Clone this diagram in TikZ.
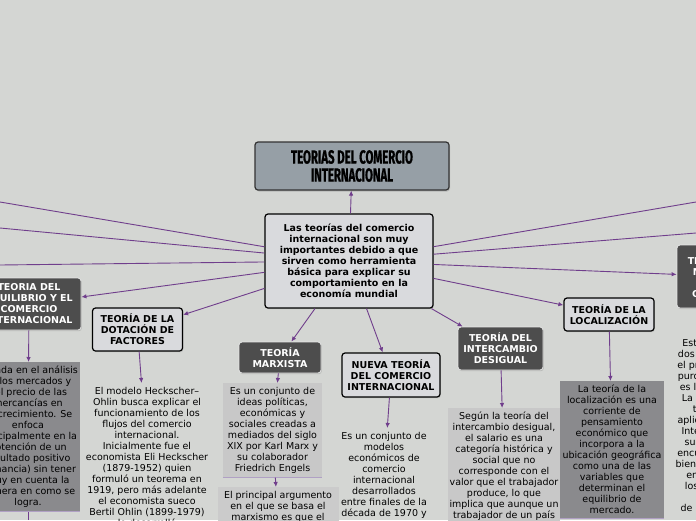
\documentclass[tikz,border=0pt]{standalone}
\usepackage{fontspec}
\setmainfont{DejaVu Sans}
\newfontfamily\titlefont[FakeStretch=0.6, FakeBold=0.8]{Fira Sans}
\usetikzlibrary{arrows.meta,shadows}

\definecolor{bgcol}{RGB}{212,214,211}
\definecolor{titlecol}{RGB}{150,159,166}
\definecolor{palecol}{RGB}{217,218,221}
\definecolor{darkcol}{RGB}{77,77,77}
\definecolor{midcol}{RGB}{138,138,141}
\definecolor{softcol}{RGB}{200,200,200}
\definecolor{linkcol}{RGB}{112,62,140}
\definecolor{rulecol}{RGB}{176,160,196}

\newcommand{\mapfont}{\fontsize{9.5}{11}\selectfont}

\tikzstyle{titlebox} = [rectangle, rounded corners=3pt, draw=black!80, line width=1.2pt, fill=titlecol, align=center,
  font={\titlefont\fontsize{19}{18}\selectfont\bfseries}, drop shadow={shadow xshift=1pt, shadow yshift=-1.5pt, opacity=0.35}]
\tikzstyle{palebox} = [rectangle, rounded corners=3pt, draw=black, line width=1.2pt, fill=palecol, align=center,
  font={\mapfont\bfseries}, drop shadow={shadow xshift=0.8pt, shadow yshift=-1.2pt, opacity=0.3}]
\tikzstyle{darkbox} = [rectangle, rounded corners=3pt, draw=white!80!gray, line width=0.8pt, fill=darkcol, text=white,
  align=center, font={\mapfont\bfseries}, drop shadow={shadow xshift=0.8pt, shadow yshift=-1.2pt, opacity=0.3}]
\tikzstyle{descbox} = [rectangle, anchor=north, inner xsep=1pt, inner ysep=4pt, align=center, font=\mapfont]
\tikzstyle{link} = [draw=linkcol, line width=0.9pt]
\tikzstyle{arr} = [link, -{Latex[length=5pt, width=4.5pt]}]
\tikzstyle{rule} = [draw=rulecol, line width=1pt]

\begin{document}
\begin{tikzpicture}[x=1pt, y=-1pt]
  \useasboundingbox (0,0) rectangle (696,520);
  \fill[bgcol] (0,0) rectangle (696,520);
  \clip (0,0) rectangle (696,520);

  % main nodes
  \node[titlebox, minimum width=194pt, minimum height=48pt] (title) at (352,166) {TEORIAS DEL COMERCIO\\INTERNACIONAL};
  \node[palebox, minimum width=168pt, minimum height=94pt] (cent) at (349,261)
    {Las teorías del comercio\\internacional son muy\\importantes debido a que\\sirven como herramienta\\básica para explicar su\\comportamiento en la\\economía mundial};

  % theories
  \node[darkbox, minimum width=104pt, minimum height=52pt] (equil) at (29,304) {TEORIA DEL\\EQUILIBRIO Y EL\\COMERCIO\\INTERNACIONAL};
  \node[palebox, minimum width=90pt, minimum height=43pt] (dotac) at (137.5,329.5) {TEORÍA DE LA\\DOTACIÓN DE\\FACTORES};
  \node[darkbox, minimum width=82pt, minimum height=31pt] (marx) at (280,357.5) {TEORÍA\\MARXISTA};
  \node[palebox, minimum width=98pt, minimum height=44pt] (nueva) at (391,375) {NUEVA TEORÍA\\DEL COMERCIO\\INTERNACIONAL};
  \node[darkbox, minimum width=85pt, minimum height=43pt] (inter) at (500.5,348.5) {TEORÍA DEL\\INTERCAMBIO\\DESIGUAL};
  \node[palebox, minimum width=90pt, minimum height=33pt] (local) at (609,314.5) {TEORÍA DE LA\\LOCALIZACIÓN};
  \node[darkbox, minimum width=102pt, minimum height=63pt] (merc) at (728,276.5) {TEORÍA DE LAS\\MERCANCÍAS\\Y EL\\CAPITALISMO};

  % descriptions
  \node[descbox, fill=midcol, minimum width=104pt, minimum height=148pt] (equildesc) at (28,362)
    {Basada en el análisis\\de los mercados y\\del precio de las\\mercancías en\\su crecimiento. Se\\enfoca\\principalmente en la\\obtención de un\\resultado positivo\\(ganancia) sin tener\\muy en cuenta la\\manera en como se\\logra.};
  \node[descbox] (dotacdesc) at (147,383)
    {El modelo Heckscher–\\Ohlin busca explicar el\\funcionamiento de los\\flujos del comercio\\internacional.\\Inicialmente fue el\\economista Eli Heckscher\\(1879-1952) quien\\formuló un teorema en\\1919, pero más adelante\\el economista sueco\\Bertil Ohlin (1899-1979)\\lo desarrolló};
  \node[descbox, fill=softcol, minimum width=99pt, minimum height=94pt] (marxdesc) at (272.5,383)
    {Es un conjunto de\\ideas políticas,\\económicas y\\sociales creadas a\\mediados del siglo\\XIX por Karl Marx y\\su colaborador\\Friedrich Engels};
  \node[descbox, fill=softcol!95!white, minimum width=121pt, text depth=30pt] (marxarg) at (278,487)
    {El principal argumento\\en el que se basa el\\marxismo es que el};
  \node[descbox] (nuevadesc) at (384,428)
    {Es un conjunto de\\modelos\\económicos de\\comercio\\internacional\\desarrollados\\entre finales de la\\década de 1970 y};
  \node[descbox, fill=softcol, minimum width=112pt, text depth=20pt] (interdesc) at (504,408)
    {Según la teoría del\\intercambio desigual,\\el salario es una\\categoría histórica y\\social que no\\corresponde con el\\valor que el trabajador\\produce, lo que\\implica que aunque un\\trabajador de un país};
  \node[descbox, fill=midcol, minimum width=104pt, minimum height=137pt] (localdesc) at (612,381)
    {La teoría de la\\localización es una\\corriente de\\pensamiento\\económico que\\incorpora a la\\ubicación geográfica\\como una de las\\variables que\\determinan el\\equilibrio de\\mercado.};
  \node[descbox] (mercdesc) at (730,335)
    {Establece que entre\\dos países que tienen\\el primero produce un\\puro beneficio porque\\es la especialización.\\La práctica de dicha\\teoría se puede\\aplicar en el comercio\\Internacional que se\\sustenta en que se\\encuentran diferentes\\bienes que pueden ser\\encontrados entre\\los distintos países\\del mundo\\de manera eficiente.};

  % bottom rules of the description boxes
  \draw[rule] (equildesc.south west) -- (equildesc.south east);
  \draw[rule] (marxdesc.south west) -- (marxdesc.south east);
  \draw[rule] (localdesc.south west) -- (localdesc.south east);

  % connectors
  \draw[arr] (cent) -- (title);
  \foreach \n/\y in {1/202, 2/228, 3/265} {
    \coordinate (west\n) at (0,\y);
    \draw[link] (cent) -- (west\n);
  }
  \foreach \n/\y in {1/202, 2/233} {
    \coordinate (east\n) at (696,\y);
    \draw[link] (cent) -- (east\n);
  }
  \foreach \t in {equil, dotac, marx, nueva, inter, local, merc}
    \draw[arr] (cent) -- (\t);
  \draw[arr] (equil) -- (equildesc);
  \draw[arr] (dotac) -- (dotacdesc);
  \draw[arr] (marx) -- (marxdesc);
  \draw[arr] (marxdesc) -- (marxarg);
  \draw[arr] (nueva) -- (nuevadesc);
  \draw[arr] (inter) -- (interdesc);
  \draw[arr] (local) -- (localdesc);
  \coordinate (south1) at (28,520);
  \draw[link] (equildesc) -- (south1);
\end{tikzpicture}
\end{document}
